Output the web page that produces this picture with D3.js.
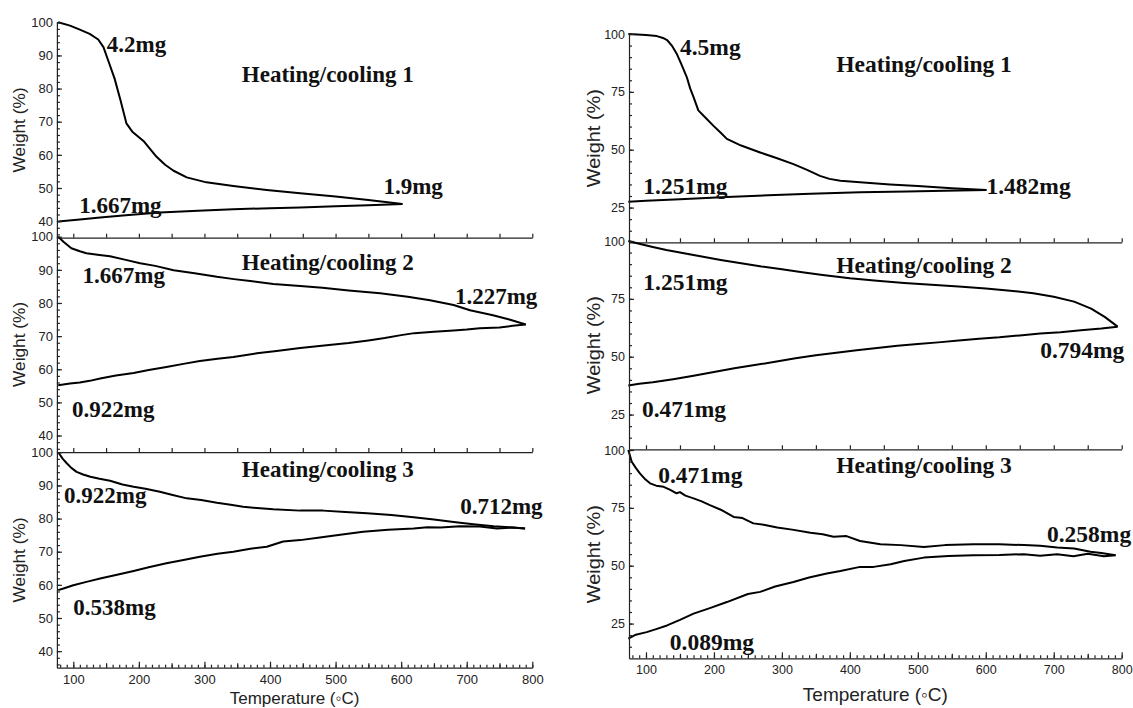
<!DOCTYPE html>
<html>
<head>
<meta charset="utf-8">
<script src="https://cdn.jsdelivr.net/npm/d3@7"></script>
<style>
  body { margin: 0; background: #fff; }
  .ann { font-family: "Liberation Serif", "Times New Roman", serif; font-weight: bold; fill: #111; }
</style>
</head>
<body>
<div id="chart"></div>
<script>
// ---- data: [temperature °C, weight %] ----
const tempTicks = [100, 200, 300, 400, 500, 600, 700, 800];

// left column
const heatA1 = [[77,100],[95,99],[110,97.8],[125,96.5],[138,94.8],[146,92.5],[155,87.5],[163,83],[172,76.5],[181,69.5],[190,67],[207,64.2],[227,59.4],[240,57],[253,55.2],[273,53.2],[303,51.7],[344,50.6],[395,49.4],[446,48.4],[500,47.4],[550,46.4],[602,45.2]];
const coolA1 = [[602,45.2],[550,44.8],[500,44.5],[446,44.1],[400,43.9],[344,43.6],[290,43.1],[232,42.6],[180,41.8],[141,41.1],[110,40.5],[77,39.9]];
const heatA2 = [[77,100],[85,98.5],[97,96.5],[110,95.6],[120,95],[140,94.5],[156,94.1],[180,93],[202,92],[225,91.2],[253,89.9],[285,89],[319,87.9],[345,87.2],[370,86.6],[405,85.7],[446,85.1],[480,84.6],[520,83.8],[568,82.9],[610,81.9],[644,80.8],[680,79.4],[705,77.8],[740,76.3],[765,75],[790,73.5]];
const coolA2 = [[790,73.5],[770,73.1],[750,72.6],[720,72.4],[700,72],[680,71.7],[650,71.3],[620,70.9],[600,70.3],[575,69.4],[550,68.7],[520,67.9],[490,67.3],[446,66.4],[410,65.5],[380,64.8],[344,63.7],[320,63.2],[293,62.5],[270,61.7],[242,60.7],[215,59.8],[192,58.9],[165,58.1],[141,57.2],[125,56.5],[110,56],[95,55.7],[77,55.2]];
const heatA3 = [[77,100],[84,98],[90,96.7],[97,95.3],[105,94.1],[115,93.3],[126,92.6],[140,92],[156,91.4],[175,90.3],[192,89.6],[210,89],[232,88.1],[250,87.2],[273,86.1],[295,85.6],[319,84.8],[340,84.2],[359,83.6],[380,83.2],[405,82.8],[446,82.4],[481,82.4],[515,82],[548,81.6],[585,81.1],[619,80.4],[650,79.7],[680,79],[710,78.3],[741,77.7],[765,77.4],[789,77]];
const coolA3 = [[789,77],[770,77.3],[746,77],[720,77.6],[690,77.7],[660,77.3],[640,77.4],[619,77],[580,76.6],[542,76],[510,75.2],[476,74.3],[446,73.5],[420,73.1],[395,71.5],[370,70.9],[344,70],[320,69.4],[293,68.5],[270,67.6],[242,66.5],[215,65.3],[192,64.2],[165,63],[141,61.9],[120,60.9],[100,59.9],[85,58.9],[77,58.4]];

// right column
const heatB1 = [[74,100],[100,99.6],[116,99.1],[125,98.3],[131,97.4],[138,95],[145,91.6],[152,87],[160,81.4],[165,76.5],[170,72.7],[177,67],[188,63.7],[199,60.4],[210,57.3],[219,54.7],[240,51.8],[268,48.8],[293,46.3],[317,43.8],[337,41.3],[356,38.7],[370,37.4],[386,36.6],[415,35.9],[459,35],[500,34.3],[550,33.4],[601,32.6]];
const coolB1 = [[601,32.6],[540,32.3],[484,31.9],[415,31.6],[342,31],[280,30.3],[219,29.6],[150,28.6],[100,27.9],[74,27.5]];
const heatB2 = [[74,100],[90,98.8],[110,97.4],[130,96.1],[150,95],[180,93.4],[210,91.8],[240,90.4],[270,89],[300,87.8],[330,86.5],[360,85.3],[400,83.9],[440,82.8],[480,81.9],[520,81.1],[560,80.3],[600,79.5],[640,78.4],[670,77.4],[700,75.9],[730,73.8],[755,70.8],[775,67.2],[794,63]];
const coolB2 = [[794,63],[770,62.2],[740,61.4],[710,60.6],[680,60],[650,59.2],[620,58.4],[590,57.8],[560,57],[530,56.2],[500,55.5],[470,54.7],[440,53.8],[410,52.8],[380,51.7],[350,50.6],[320,49.3],[290,47.8],[260,46.4],[230,45],[200,43.4],[170,41.8],[140,40.3],[110,39],[90,38.3],[74,37.6]];
const heatB3 = [[74,100],[79,94.9],[85,92.3],[91,89.9],[98,87.6],[106,85.6],[115,84.6],[126,84.1],[135,82.9],[145,81.3],[150,81.8],[158,80.3],[170,79.1],[182,77.8],[194,76.2],[210,74.2],[229,71.1],[242,70.6],[258,68.3],[275,67.6],[293,66.5],[315,65.6],[342,64.2],[360,63.6],[376,62.5],[395,62.8],[415,60.7],[445,59.3],[475,58.9],[509,58.1],[540,58.9],[582,59.3],[620,59.3],[656,58.9],[680,58.6],[705,57.9],[730,57.4],[754,56],[770,55.5],[791,54.5]];
const coolB3 = [[791,54.5],[774,54.1],[750,55.2],[729,54.1],[705,55],[680,54.3],[656,55],[620,54.6],[582,54.5],[545,54.2],[509,53.5],[480,52],[460,50.6],[435,49.5],[415,49.5],[386,47.7],[366,46.6],[340,44.9],[317,43],[290,41],[268,38.7],[250,37.8],[219,34.3],[195,31.8],[170,29.3],[150,26.6],[131,24.2],[115,22.6],[101,21.3],[85,20.2],[74,18.5]];

// annotation texts per panel
const titles = ["Heating/cooling 1", "Heating/cooling 2", "Heating/cooling 3"];
const massA = [["4.2mg", "1.667mg", "1.9mg"], ["1.667mg", "0.922mg", "1.227mg"], ["0.922mg", "0.538mg", "0.712mg"]];
const massB = [["4.5mg", "1.251mg", "1.482mg"], ["1.251mg", "0.471mg", "0.794mg"], ["0.471mg", "0.089mg", "0.258mg"]];

// ---- layout ----
const width = 1133, height = 708;
const svg = d3.select("#chart").append("svg")
  .attr("width", width).attr("height", height);

const columns = [
  {
    x0: 56.9, x1: 532.3, tops: [22.3, 236.7, 452.3], h: 215.4,
    yDomain: [35, 100], yMajor: d3.range(40, 101, 10), yMinor: d3.range(36, 101, 2),
    tickFont: 13, titleFont: 16, ylabLen: 85, annFont: 23, ylabX: 25, xlabY: 704, xlabFont: 17,
    curves: [[heatA1, coolA1], [heatA2, coolA2], [heatA3, coolA3]],
    masses: massA,
    // annotation anchors in data coords: [first, second, third], then title
    annPos: [
      [[151, 91.1], [109, 42.6], [573, 48.2], [357, 82]],
      [[114, 86.1], [98, 45.6], [682, 79.7], [357, 89.9]],
      [[86, 84.6], [100, 50.9], [690, 81.4], [357, 92.4]]
    ]
  },
  {
    x0: 629, x1: 1121.7, tops: [34, 241, 450], h: 208.3,
    yDomain: [10, 100], yMajor: [25, 50, 75, 100], yMinor: d3.range(15, 101, 5),
    tickFont: 12.5, titleFont: 18, ylabLen: 98, annFont: 23.5, ylabX: 600, xlabY: 701, xlabFont: 19,
    curves: [[heatB1, coolB1], [heatB2, coolB2], [heatB3, coolB3]],
    masses: massB,
    annPos: [
      [[150, 90.9], [96, 31], [601, 31], [380, 83.7]],
      [[96, 78.8], [94, 23.8], [680, 49.4], [380, 86.3]],
      [[118, 85.8], [135, 13.4], [690, 60.3], [380, 90]]
    ]
  }
];

const line = d3.line().curve(d3.curveLinear);

columns.forEach(col => {
  const x = d3.scaleLinear().domain([75, 800]).range([col.x0, col.x1]);

  col.tops.forEach((top, i) => {
    const y = d3.scaleLinear().domain(col.yDomain).range([top + col.h, top]);
    const last = i === col.tops.length - 1;
    const g = svg.append("g");

    // curves
    col.curves[i].forEach(data => {
      g.append("path")
        .attr("d", line.x(d => x(d[0])).y(d => y(d[1]))(data))
        .attr("fill", "none")
        .attr("stroke", "#000")
        .attr("stroke-width", 2)
        .attr("stroke-linejoin", "round");
    });

    // y axis (ticks point inward)
    const yAxis = g.append("g")
      .attr("transform", `translate(${col.x0},0)`)
      .call(d3.axisLeft(y).tickValues(col.yMajor).tickSize(-5).tickSizeOuter(0).tickPadding(4));
    yAxis.selectAll("text").attr("font-size", col.tickFont).attr("font-family", "Liberation Sans, Arial, sans-serif").attr("fill", "#222");
    g.append("g")
      .attr("transform", `translate(${col.x0},0)`)
      .call(d3.axisLeft(y).tickValues(col.yMinor).tickSize(-3).tickSizeOuter(0).tickFormat(""))
      .select(".domain").remove();

    // bottom axis
    const xb = g.append("g").attr("transform", `translate(0,${top + col.h})`);
    if (last) {
      xb.call(d3.axisBottom(x).tickValues(tempTicks).tickSize(-6).tickSizeOuter(0).tickPadding(7))
        .selectAll("text").attr("font-size", col.tickFont).attr("font-family", "Liberation Sans, Arial, sans-serif").attr("fill", "#222");
      g.append("g").attr("transform", `translate(0,${top + col.h})`)
        .call(d3.axisBottom(x).tickValues(d3.range(80, 801, 10)).tickSize(-3).tickFormat(""))
        .select(".domain").remove();
      g.append("g").attr("transform", `translate(0,${top + col.h})`)
        .call(d3.axisBottom(x).tickValues(d3.range(150, 801, 100)).tickSize(-4.5).tickFormat(""))
        .select(".domain").remove();
    } else {
      xb.call(d3.axisBottom(x).tickValues(d3.range(100, 801, 50)).tickSize(-4).tickSizeOuter(0).tickFormat(""));
    }
    g.selectAll(".domain, .tick line").attr("stroke", "#222").attr("stroke-width", 1.2);

    // y label
    g.append("text")
      .attr("transform", `translate(${col.ylabX},${top + col.h / 2}) rotate(-90)`)
      .attr("text-anchor", "middle")
      .attr("font-family", "Liberation Sans, Arial, sans-serif")
      .attr("font-size", col.titleFont)
      .attr("textLength", col.ylabLen)
      .attr("lengthAdjust", "spacingAndGlyphs")
      .attr("fill", "#222")
      .text("Weight (%)");

    // annotations
    const texts = [...col.masses[i], titles[i]];
    texts.forEach((t, k) => {
      const p = col.annPos[i][k];
      g.append("text")
        .attr("class", "ann")
        .attr("x", x(p[0]))
        .attr("y", y(p[1]))
        .attr("font-size", col.annFont)
        .text(t);
    });
  });

  // x label
  svg.append("text")
    .attr("x", (col.x0 + col.x1) / 2)
    .attr("y", col.xlabY)
    .attr("text-anchor", "middle")
    .attr("font-family", "Liberation Sans, Arial, sans-serif")
    .attr("font-size", col.xlabFont)
    .attr("fill", "#222")
    .text("Temperature (\u25E6C)");
});
</script>
</body>
</html>
